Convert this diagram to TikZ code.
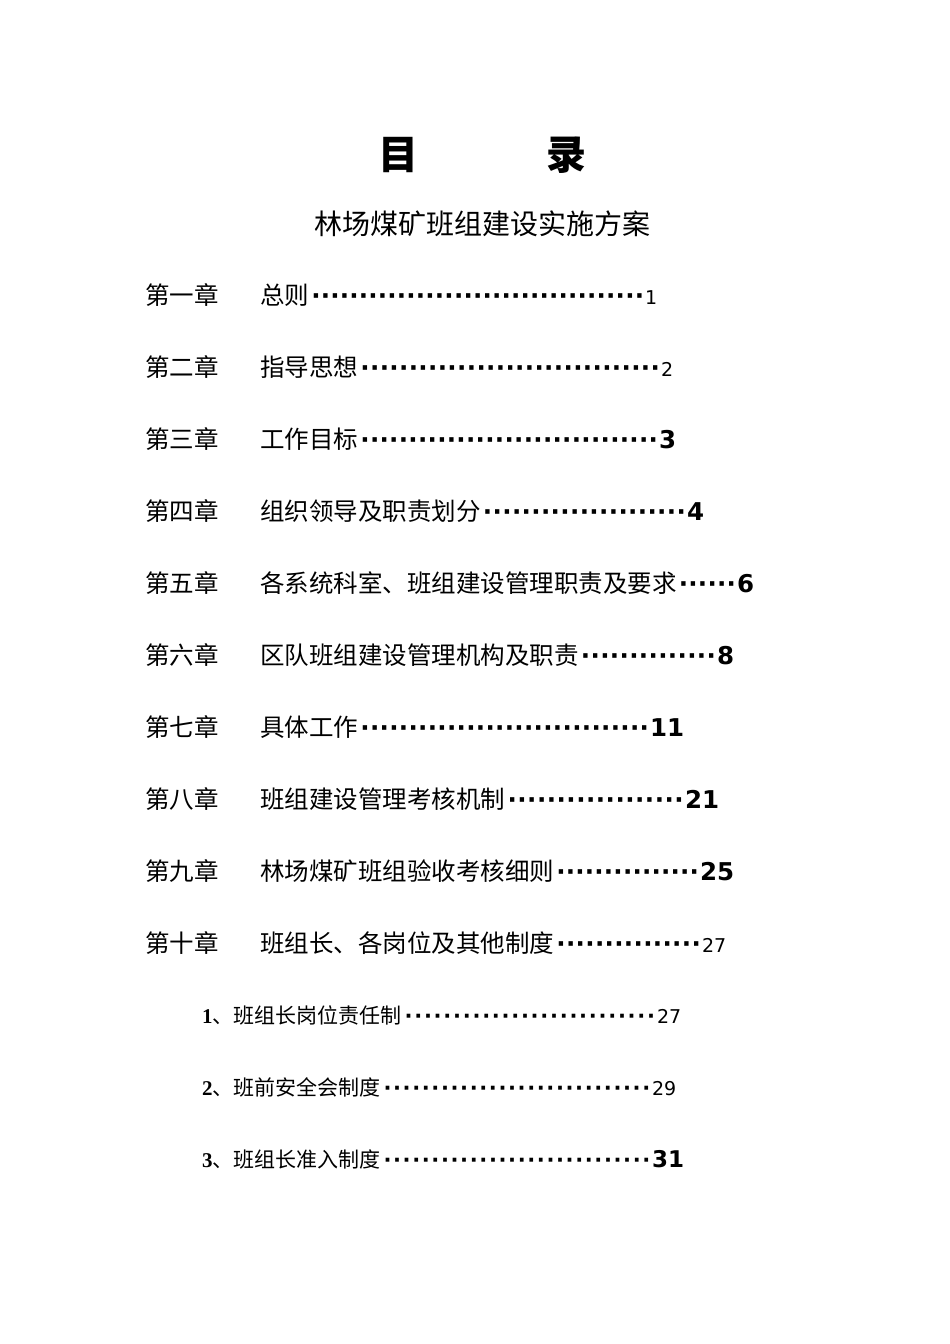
\documentclass[tikz,border=0pt]{standalone}
\usepackage{fontspec}
\setmainfont{DejaVu Sans}
\newfontfamily\cjk{Noto Sans CJK SC}
\newfontfamily\ser{Liberation Serif}
\newcommand{\dts}{\xleaders\hbox to 9.5pt{\hss\textbf{·}\hss}\hfill}
\newcommand{\tocl}[3]{\hbox to #1pt{{\cjk #2}\kern2pt\dts\kern1pt #3}}
\newcommand{\sm}[1]{{\fontsize{19}{19}\selectfont #1}}
\tikzset{ch/.style={anchor=base west,inner sep=0pt,font=\fontsize{24.5}{24.5}\selectfont},
 sub/.style={anchor=base west,inner sep=0pt,font=\fontsize{21}{21}\selectfont}}
\begin{document}
\begin{tikzpicture}[x=1pt,y=-1pt]
\useasboundingbox[fill=white] (0,0) rectangle (950,1344);
\node[inner sep=0pt,font=\cjk\fontsize{40}{40}\selectfont\bfseries] (t) at (482,155) {目\hspace{3.2em}录};
\node[inner sep=0pt,font=\cjk\fontsize{28}{28}\selectfont] (st) at (482,224) {林场煤矿班组建设实施方案};
\foreach \y/\c/\w/\t/\n [count=\i] in {
 295/第一章/397/总则/\sm{1},
 367/第二章/413/指导思想/\sm{2},
 439/第三章/416/工作目标/\textbf{3},
 511/第四章/444/组织领导及职责划分/\textbf{4},
 583/第五章/494/各系统科室、班组建设管理职责及要求/\textbf{6},
 655/第六章/474/区队班组建设管理机构及职责/\textbf{8},
 727/第七章/424/具体工作/\textbf{11},
 799/第八章/459/班组建设管理考核机制/\textbf{21},
 871/第九章/474/林场煤矿班组验收考核细则/\textbf{25},
 943/第十章/466/班组长、各岗位及其他制度/\sm{27}}{
 \node[ch] (c\i) at (145,\y+9) {\cjk \c};
 \node[ch] (e\i) at (260,\y+9) {\tocl{\w}{\t}{\n}};
}
\foreach \y/\a/\w/\t/\n [count=\i] in {
 1015/1/479/班组长岗位责任制/\sm{27},
 1087/2/474/班前安全会制度/\sm{29},
 1159/3/482/班组长准入制度/\textbf{\fontsize{23}{23}\selectfont 31}}{
 \node[sub] (s\i) at (202,\y+8) {\tocl{\w}{{\ser\bfseries \a}、\t}{\n}};
}
\end{tikzpicture}
\end{document}
